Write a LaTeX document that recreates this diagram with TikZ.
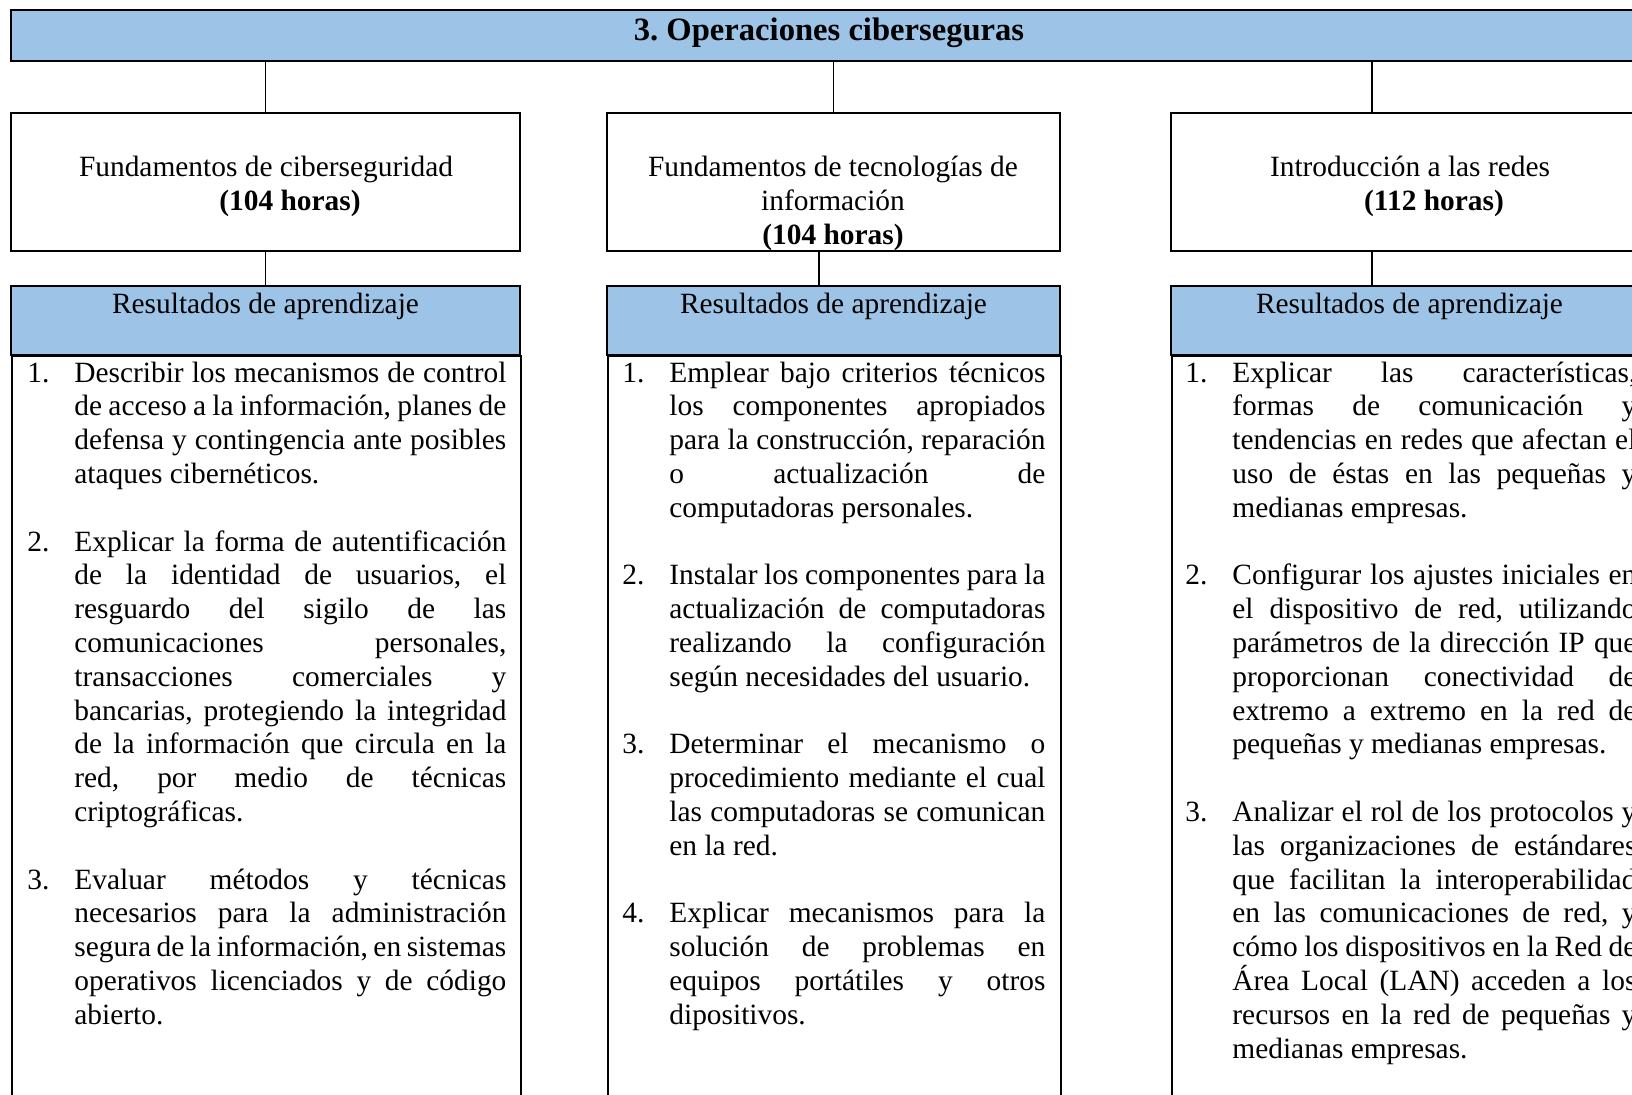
\documentclass[tikz,border=0pt]{standalone}
\usepackage{fontspec}
\setmainfont{Liberation Serif}
\frenchspacing
\definecolor{hdr}{HTML}{9DC3E6}
\newcommand\jl[1]{\makebox[\linewidth][s]{#1}\\}
\newcommand\fl[1]{#1\\}
\newcommand\bl{\mbox{}\\}
\newcommand\itemnum[1]{\llap{\makebox[23.5pt][l]{#1}}}
\begin{document}
\begin{tikzpicture}[x=0.5pt,y=-0.5pt,
  box/.style={draw, line width=0.9pt, inner sep=0, minimum height=69pt},
  hdrbox/.style={box, fill=hdr, minimum height=34.5pt},
  conn/.style={line width=0.9pt},
  lbl/.style={anchor=base, inner sep=0, font=\fontsize{14.7}{16.9}\selectfont},
  body/.style={anchor=base west, inner sep=0, font=\fontsize{14.7}{16.9}\selectfont}]
\clip (0,0) rectangle (1632,1094);
\fill[white] (0,0) rectangle (1632,1094);

% title bar
\node[box, fill=hdr, minimum width=819pt, minimum height=25.5pt] (title) at (830,35.5) {};
\node[lbl, font=\fontsize{16.3}{18.7}\selectfont\bfseries] (ttl) at (829,40) {3. Operaciones ciberseguras};

% course boxes
\node[box, minimum width=254.5pt] (box1) at (265.5,182) {};
\node[box, minimum width=226.5pt] (box2) at (833.5,182) {};
\node[box, minimum width=238.5pt] (box3) at (1409.5,182) {};

\node[lbl] (t1a) at (266,176) {Fundamentos de ciberseguridad};
\node[lbl, font=\fontsize{14.7}{16.9}\selectfont\bfseries] (t1b) at (290,210) {(104 horas)};
\node[lbl] (t2a) at (833,176) {Fundamentos de tecnologías de};
\node[lbl] (t2b) at (833,210) {información};
\node[lbl, font=\fontsize{14.7}{16.9}\selectfont\bfseries] (t2c) at (833,244) {(104 horas)};
\node[lbl] (t3a) at (1410,176) {Introducción a las redes};
\node[lbl, font=\fontsize{14.7}{16.9}\selectfont\bfseries] (t3b) at (1434,210) {(112 horas)};

% headers
\node[hdrbox, minimum width=254.5pt] (h1) at (265.5,320.5) {};
\node[hdrbox, minimum width=226.5pt] (h2) at (833.5,320.5) {};
\node[hdrbox, minimum width=238.5pt] (h3) at (1409.5,320.5) {};
\node[lbl] (h1t) at (265.5,313) {Resultados de aprendizaje};
\node[lbl] (h2t) at (833.5,313) {Resultados de aprendizaje};
\node[lbl] (h3t) at (1409.5,313) {Resultados de aprendizaje};

% body boxes (open at the bottom edge)
\node[box, anchor=north west, minimum width=254.5pt, minimum height=385pt] (body1) at (11,355) {};
\node[box, anchor=north west, minimum width=226.5pt, minimum height=385pt] (body2) at (607,355) {};
\node[box, anchor=north west, minimum width=238.5pt, minimum height=385pt] (body3) at (1171,355) {};

% connectors
\coordinate (c3) at (1372,113);
\coordinate (d2) at (819,286);
\coordinate (d3) at (1372,286);
\draw[conn] (title.south -| box1.north) -- (box1.north);
\draw[conn] (title.south -| box2.north) -- (box2.north);
\draw[conn] (title.south -| c3) -- (box3.north -| c3);
\draw[conn] (box1.south) -- (h1.north);
\draw[conn] (box2.south -| d2) -- (h2.north -| d2);
\draw[conn] (box3.south -| d3) -- (h3.north -| d3);

% column 1
\node[body] (list1) at (74,382) {\begin{minipage}[t]{216pt}
\jl{\itemnum{1.}Describir los mecanismos de control}
\jl{de acceso a la información, planes de}
\jl{defensa y contingencia ante posibles}
\fl{ataques cibernéticos.}
\bl
\jl{\itemnum{2.}Explicar la forma de autentificación}
\jl{de la identidad de usuarios, el}
\jl{resguardo del sigilo de las}
\jl{comunicaciones personales,}
\jl{transacciones comerciales y}
\jl{bancarias, protegiendo la integridad}
\jl{de la información que circula en la}
\jl{red, por medio de técnicas}
\fl{criptográficas.}
\bl
\jl{\itemnum{3.}Evaluar métodos y técnicas}
\jl{necesarios para la administración}
\jl{segura de la información, en sistemas}
\jl{operativos licenciados y de código}
\fl{abierto.}
\end{minipage}};

% column 2
\node[body] (list2) at (669,382) {\begin{minipage}[t]{188pt}
\jl{\itemnum{1.}Emplear bajo criterios técnicos}
\jl{los componentes apropiados}
\jl{para la construcción, reparación}
\jl{o actualización de}
\fl{computadoras personales.}
\bl
\jl{\itemnum{2.}Instalar los componentes para la}
\jl{actualización de computadoras}
\jl{realizando la configuración}
\fl{según necesidades del usuario.}
\bl
\jl{\itemnum{3.}Determinar el mecanismo o}
\jl{procedimiento mediante el cual}
\jl{las computadoras se comunican}
\fl{en la red.}
\bl
\jl{\itemnum{4.}Explicar mecanismos para la}
\jl{solución de problemas en}
\jl{equipos portátiles y otros}
\fl{dipositivos.}
\end{minipage}};

% column 3
\node[body] (list3) at (1232,382) {\begin{minipage}[t]{202pt}
\jl{\itemnum{1.}Explicar las características,}
\jl{formas de comunicación y}
\jl{tendencias en redes que afectan el}
\jl{uso de éstas en las pequeñas y}
\fl{medianas empresas.}
\bl
\jl{\itemnum{2.}Configurar los ajustes iniciales en}
\jl{el dispositivo de red, utilizando}
\jl{parámetros de la dirección IP que}
\jl{proporcionan conectividad de}
\jl{extremo a extremo en la red de}
\fl{pequeñas y medianas empresas.}
\bl
\jl{\itemnum{3.}Analizar el rol de los protocolos y}
\jl{las organizaciones de estándares}
\jl{que facilitan la interoperabilidad}
\jl{en las comunicaciones de red, y}
\jl{cómo los dispositivos en la Red de}
\jl{Área Local (LAN) acceden a los}
\jl{recursos en la red de pequeñas y}
\fl{medianas empresas.}
\end{minipage}};
\end{tikzpicture}
\end{document}
